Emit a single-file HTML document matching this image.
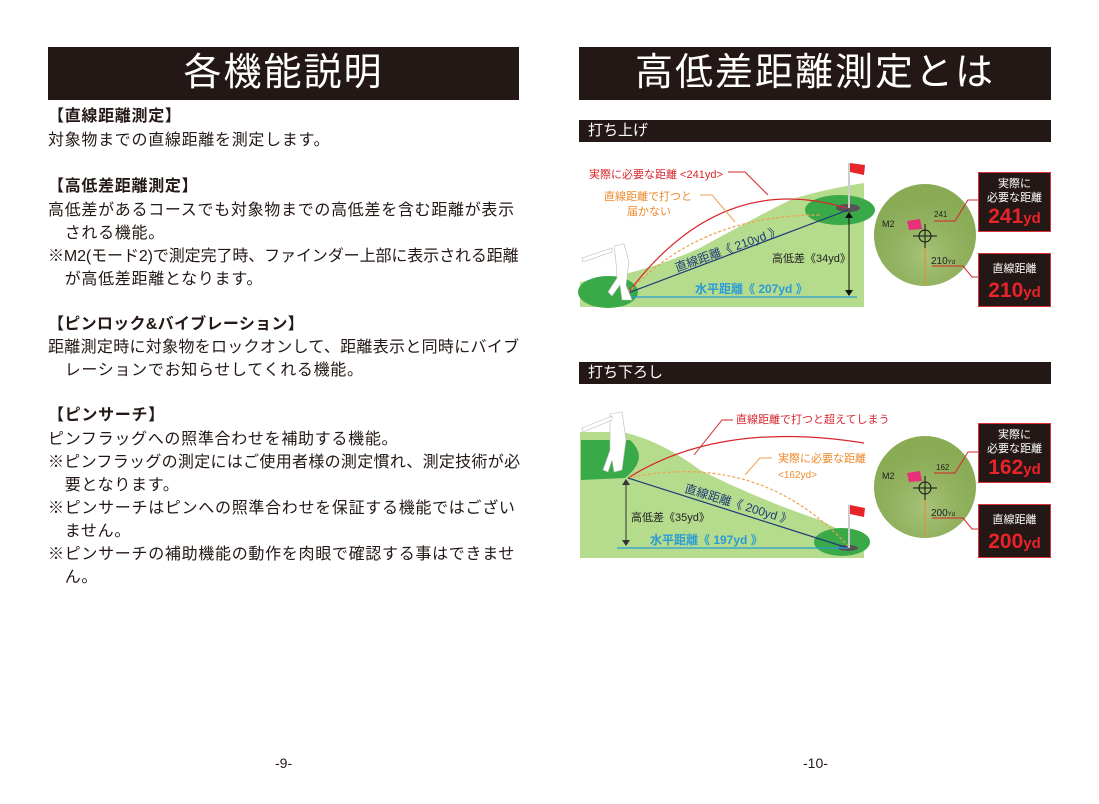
<!DOCTYPE html>
<html><head><meta charset="utf-8"><style>
body{margin:0;width:1099px;height:804px;background:#fff;position:relative;overflow:hidden;font-family:"Liberation Sans","Noto Sans CJK JP",sans-serif;color:#231815}
.bar{position:absolute;background:#231815;color:#fff;text-align:center;font-size:38px;line-height:53px;height:53px;letter-spacing:2px}
.sub{position:absolute;left:579px;width:472px;height:22px;background:#231815;color:#fff;font-size:15px;line-height:22px;padding-left:9px;box-sizing:border-box}
.t{position:absolute;left:48px;font-size:16px;letter-spacing:0.7px;white-space:nowrap;line-height:20px}
.b{font-weight:bold}
.pg{position:absolute;top:755px;font-size:14px}
.box{position:absolute;left:978px;width:73px;background:#231815;border:1px solid #e0303a;color:#fff;text-align:center;box-sizing:border-box}
.box .s{font-size:11px;line-height:14px}
.box .n{font-size:21px;font-weight:bold;color:#e8232a;line-height:24px}
.box .n small{font-size:15px}
</style></head><body>
<div class="bar" style="left:48px;top:47px;width:471px">各機能説明</div>
<div class="bar" style="left:579px;top:47px;width:472px">高低差距離測定とは</div>

<div class="t b" style="top:107px">【直線距離測定】</div>
<div class="t" style="top:131px">対象物までの直線距離を測定します。</div>
<div class="t b" style="top:177px">【高低差距離測定】</div>
<div class="t" style="top:201px">高低差があるコースでも対象物までの高低差を含む距離が表示</div>
<div class="t" style="top:224px">　される機能。</div>
<div class="t" style="top:247px;letter-spacing:-0.1px">※M2(モード2)で測定完了時、ファインダー上部に表示される距離</div>
<div class="t" style="top:270px">　が高低差距離となります。</div>
<div class="t b" style="top:315px;letter-spacing:0.3px">【ピンロック&amp;バイブレーション】</div>
<div class="t" style="top:338px;letter-spacing:0.3px">距離測定時に対象物をロックオンして、距離表示と同時にバイブ</div>
<div class="t" style="top:361px">　レーションでお知らせしてくれる機能。</div>
<div class="t b" style="top:406px">【ピンサーチ】</div>
<div class="t" style="top:430px">ピンフラッグへの照準合わせを補助する機能。</div>
<div class="t" style="top:453px;letter-spacing:0.3px">※ピンフラッグの測定にはご使用者様の測定慣れ、測定技術が必</div>
<div class="t" style="top:476px">　要となります。</div>
<div class="t" style="top:499px">※ピンサーチはピンへの照準合わせを保証する機能ではござい</div>
<div class="t" style="top:522px">　ません。</div>
<div class="t" style="top:545px">※ピンサーチの補助機能の動作を肉眼で確認する事はできませ</div>
<div class="t" style="top:568px">　ん。</div>

<div class="pg" style="left:275px">-9-</div>
<div class="pg" style="left:803px">-10-</div>

<div class="sub" style="top:120px">打ち上げ</div>
<div class="sub" style="top:362px">打ち下ろし</div>

<svg style="position:absolute;left:0;top:0" width="1099" height="804" font-family="Liberation Sans,Noto Sans CJK JP,sans-serif">
<path d="M580,307 L580,282 Q640,275 700,248 Q760,215 790,200 Q820,190 864,183 L864,307 Z" fill="#b5dc8c"/>
<ellipse cx="608" cy="292" rx="30" ry="16" fill="#3aaa49"/>
<ellipse cx="840" cy="210" rx="35" ry="15" fill="#3aaa49"/>
<ellipse cx="848" cy="208" rx="12" ry="4" fill="#555"/>
<line x1="849" y1="163" x2="849" y2="208" stroke="#ccc" stroke-width="2"/>
<path d="M850,163 L865,165 L864,175 L850,172Z" fill="#e8232a"/>
<path d="M628,293 Q720,170 846,208" stroke="#d7262c" fill="none" stroke-width="1.2"/>
<path d="M628,293 Q700,215 820,215" stroke="#f0a050" fill="none" stroke-dasharray="3,2" stroke-width="1.2"/>
<line x1="628" y1="293" x2="848" y2="210" stroke="#1f3a7a" stroke-width="1.2"/>
<line x1="628" y1="297" x2="857" y2="297" stroke="#2a9bd7" stroke-width="1.2"/>
<line x1="849" y1="214" x2="849" y2="294" stroke="#111" stroke-width="1"/>
<path d="M845,218 L849,212 L853,218Z M845,290 L849,296 L853,290Z" fill="#111"/>
<path d="M728,172 L745,172 L768,195" stroke="#d7262c" fill="none"/>
<path d="M700,195 L712,195 L735,222" stroke="#f0a050" fill="none"/>
<g fill="#fff" stroke="#bbb" stroke-width="0.6"><path d="M614,246 L624,244 L629,262 L626,285 L632,300 L622,300 L620,285 L612,296 L608,292 L617,278 L616,262Z"/><path d="M612,248 L582,258 L583,262 L612,252Z"/></g>
<text x="589" y="178" font-size="11" fill="#d7262c">実際に必要な距離 &lt;241yd&gt;</text>
<text x="604" y="200" font-size="11" fill="#ee8a2a">直線距離で打つと</text>
<text x="627" y="215" font-size="11" fill="#ee8a2a">届かない</text>
<text x="0" y="0" font-size="12" fill="#1f3a7a" transform="translate(677,272) rotate(-20)">直線距離《 210yd 》</text>
<text x="772" y="262" font-size="11" fill="#222">高低差《34yd》</text>
<text x="695" y="293" font-size="12" font-weight="bold" fill="#2a9bd7">水平距離《 207yd 》</text>

<circle cx="925" cy="235" r="51" fill="#8fb25a"/>
<circle cx="925" cy="235" r="51" fill="url(#g1)"/>
<text x="882" y="227" font-size="9" fill="#222">M2</text>
<text x="934" y="217" font-size="8" fill="#222">241</text>
<text x="931" y="264" font-size="10" fill="#222">210<tspan font-size="6">Yd</tspan></text>
<path d="M907,221 L920,219 L922,229 L909,230Z" fill="#e8307a"/>
<circle cx="925" cy="236" r="6" fill="none" stroke="#111"/>
<line x1="913" y1="236" x2="937" y2="236" stroke="#111"/><line x1="925" y1="224" x2="925" y2="248" stroke="#111"/>
<line x1="925" y1="248" x2="925" y2="285" stroke="#e88a2a"/>
<path d="M934,221 L955,221 L968,200 L978,200" stroke="#d7262c" fill="none"/>
<path d="M932,266 L963,266 L972,277 L978,277" stroke="#d7262c" fill="none"/>

<path d="M580,558 L580,432 L622,432 Q660,440 700,470 Q760,500 820,520 Q850,535 864,545 L864,558Z" fill="#b5dc8c"/>
<path d="M581,440 L630,440 Q650,458 625,478 L581,480Z" fill="#3aaa49"/>
<ellipse cx="842" cy="542" rx="28" ry="14" fill="#3aaa49"/>
<ellipse cx="848" cy="548" rx="10" ry="3" fill="#555"/>
<line x1="849" y1="505" x2="849" y2="548" stroke="#ccc" stroke-width="2"/>
<path d="M850,505 L865,508 L864,517 L850,514Z" fill="#e8232a"/>
<path d="M628,478 Q720,420 864,443" stroke="#d7262c" fill="none" stroke-width="1.2"/>
<path d="M628,478 Q760,450 848,546" stroke="#f0a050" fill="none" stroke-dasharray="3,2" stroke-width="1.2"/>
<line x1="628" y1="478" x2="848" y2="548" stroke="#1f3a7a" stroke-width="1.2"/>
<line x1="617" y1="548" x2="848" y2="548" stroke="#2a9bd7" stroke-width="1.2"/>
<line x1="626" y1="480" x2="626" y2="545" stroke="#333"/>
<path d="M622,485 L626,479 L630,485Z M622,540 L626,546 L630,540Z" fill="#333"/>
<path d="M694,455 L722,420 L733,420" stroke="#d7262c" fill="none"/>
<path d="M745,475 L760,458 L772,458" stroke="#f0a050" fill="none"/>
<g fill="#fff" stroke="#bbb" stroke-width="0.6"><path d="M610,414 L622,412 L626,440 L622,470 L614,472 L612,460 L608,472 L603,470 L610,450Z"/><path d="M612,416 L582,428 L583,432 L612,420Z"/></g>
<text x="736" y="423" font-size="11" fill="#d7262c">直線距離で打つと超えてしまう</text>
<text x="778" y="462" font-size="11" fill="#ee8a2a">実際に必要な距離</text>
<text x="778" y="478" font-size="10" fill="#ee8a2a">&lt;162yd&gt;</text>
<text x="0" y="0" font-size="12" fill="#1f3a7a" transform="translate(684,492) rotate(17)">直線距離《 200yd 》</text>
<text x="631" y="521" font-size="11" fill="#222">高低差《35yd》</text>
<text x="650" y="544" font-size="12" font-weight="bold" fill="#2a9bd7">水平距離《 197yd 》</text>

<circle cx="925" cy="487" r="51" fill="#8fb25a"/>
<circle cx="925" cy="487" r="51" fill="url(#g1)"/>
<text x="882" y="479" font-size="9" fill="#222">M2</text>
<text x="936" y="470" font-size="8" fill="#222">162</text>
<text x="931" y="516" font-size="10" fill="#222">200<tspan font-size="6">Yd</tspan></text>
<path d="M907,473 L920,471 L922,481 L909,482Z" fill="#e8307a"/>
<circle cx="925" cy="488" r="6" fill="none" stroke="#111"/>
<line x1="913" y1="488" x2="937" y2="488" stroke="#111"/><line x1="925" y1="476" x2="925" y2="500" stroke="#111"/>
<line x1="925" y1="500" x2="925" y2="537" stroke="#e88a2a"/>
<path d="M934,473 L955,473 L968,452 L978,452" stroke="#d7262c" fill="none"/>
<path d="M932,518 L963,518 L972,529 L978,529" stroke="#d7262c" fill="none"/>
<defs><radialGradient id="g1" cx="0.5" cy="0.7" r="0.6"><stop offset="0" stop-color="#b8cf90" stop-opacity="0.6"/><stop offset="1" stop-color="#7a9a48" stop-opacity="0.3"/></radialGradient></defs>
</svg>

<div class="box" style="top:172px;height:60px"><div class="s" style="margin-top:4px">実際に<br>必要な距離</div><div class="n">241<small>yd</small></div></div>
<div class="box" style="top:253px;height:54px"><div class="s" style="margin-top:8px">直線距離</div><div class="n" style="margin-top:3px">210<small>yd</small></div></div>
<div class="box" style="top:423px;height:60px"><div class="s" style="margin-top:4px">実際に<br>必要な距離</div><div class="n">162<small>yd</small></div></div>
<div class="box" style="top:504px;height:54px"><div class="s" style="margin-top:8px">直線距離</div><div class="n" style="margin-top:3px">200<small>yd</small></div></div>
</body></html>
